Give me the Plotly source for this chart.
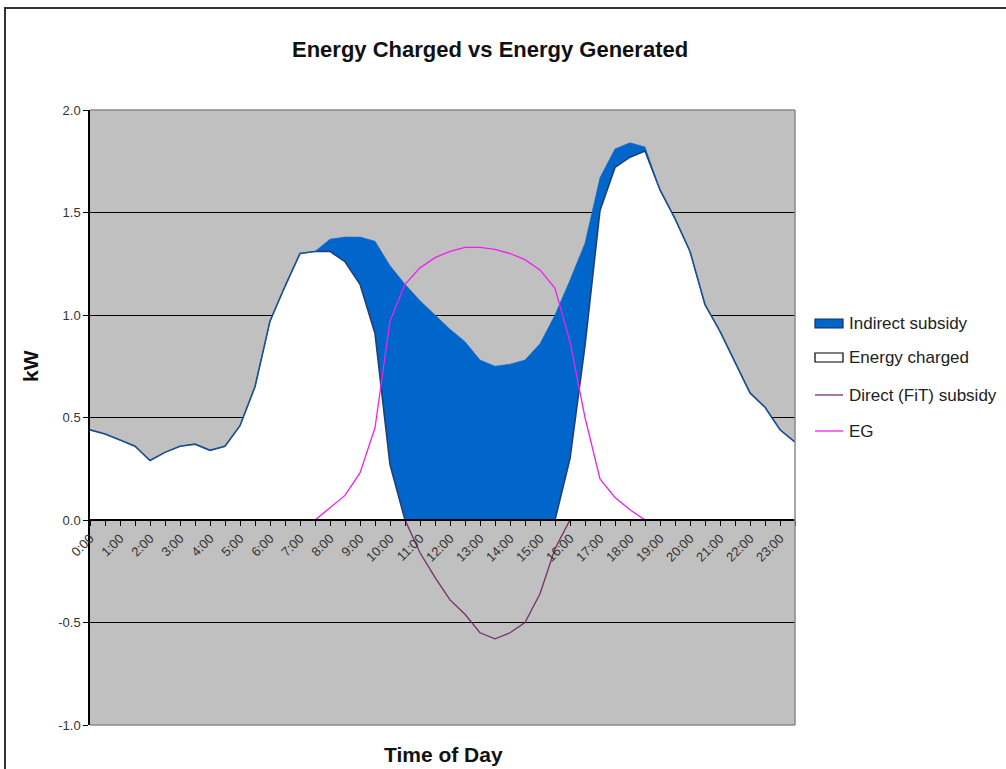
import plotly.graph_objects as go

times = ["0:00", "0:30", "1:00", "1:30", "2:00", "2:30", "3:00", "3:30",
         "4:00", "4:30", "5:00", "5:30", "6:00", "6:30", "7:00", "7:30",
         "8:00", "8:30", "9:00", "9:30", "10:00", "10:30", "11:00", "11:30",
         "12:00", "12:30", "13:00", "13:30", "14:00", "14:30", "15:00", "15:30",
         "16:00", "16:30", "17:00", "17:30", "18:00", "18:30", "19:00", "19:30",
         "20:00", "20:30", "21:00", "21:30", "22:00", "22:30", "23:00", "23:30"]

hour_labels = ["0:00", "", "1:00", "", "2:00", "", "3:00", "", "4:00", "", "5:00", "",
               "6:00", "", "7:00", "", "8:00", "", "9:00", "", "10:00", "", "11:00", "",
               "12:00", "", "13:00", "", "14:00", "", "15:00", "", "16:00", "", "17:00", "",
               "18:00", "", "19:00", "", "20:00", "", "21:00", "", "22:00", "", "23:00", ""]

energy_charged = [0.44, 0.42, 0.39, 0.36, 0.29, 0.33, 0.36, 0.37, 0.34, 0.36, 0.46, 0.65,
                  0.97, 1.14, 1.30, 1.31, 1.31, 1.26, 1.15, 0.91, 0.27, 0.0,
                  0.0, 0.0, 0.0, 0.0, 0.0, 0.0, 0.0, 0.0, 0.0, 0.0,
                  0.30, 0.85, 1.51, 1.72, 1.77, 1.80, 1.61, 1.47, 1.31, 1.05,
                  0.92, 0.77, 0.62, 0.55, 0.44, 0.38]

indirect_subsidy = [0, 0, 0, 0, 0, 0, 0, 0, 0, 0, 0, 0, 0, 0, 0, 0,
                    0.06, 0.12, 0.23, 0.45, 0.97, 1.15, 1.07, 1.00, 0.93, 0.87, 0.78,
                    0.75, 0.76, 0.78, 0.86, 1.00, 0.87, 0.50, 0.16, 0.09, 0.07, 0.02,
                    0, 0, 0, 0, 0, 0, 0, 0, 0, 0]

direct_subsidy = [0, 0, 0, 0, 0, 0, 0, 0, 0, 0, 0, 0, 0, 0, 0, 0, 0, 0, 0, 0, 0, 0,
                  -0.16, -0.28, -0.39, -0.46, -0.55, -0.58, -0.55, -0.50, -0.36, -0.14,
                  0, 0, 0, 0, 0, 0, 0, 0, 0, 0, 0, 0, 0, 0, 0, 0]

eg = [0, 0, 0, 0, 0, 0, 0, 0, 0, 0, 0, 0, 0, 0, 0, 0,
      0.06, 0.12, 0.23, 0.45, 0.97, 1.15, 1.23, 1.28, 1.31, 1.33, 1.33,
      1.32, 1.30, 1.27, 1.22, 1.13, 0.87, 0.50, 0.20, 0.11, 0.05, 0.0,
      0, 0, 0, 0, 0, 0, 0, 0, 0, 0]

y_ticks = [-1.0, -0.5, 0.0, 0.5, 1.0, 1.5, 2.0]
y_tick_labels = ["-1.0", "-0.5", "0.0", "0.5", "1.0", "1.5", "2.0"]

legend_names = ["Indirect subsidy", "Energy charged", "Direct (FiT) subsidy", "EG"]

BLUE = "#0066CC"
EDGE = "#23406e"
FIT = "#74306C"
EGC = "#F020F0"
FONT = "Liberation Sans, Arial, sans-serif"

# plot-area geometry in pixels (for placing paper-referenced decorations)
L, R, T, B = 90, 795, 110, 725


def px(xp):
    return (xp - L) / (R - L)


def py(yp):
    return (B - yp) / (B - T)


fig = go.Figure()

fig.add_trace(go.Scatter(x=times, y=energy_charged, stackgroup="one", mode="lines",
                         line=dict(color=EDGE, width=1.6), fillcolor="white",
                         name=legend_names[1], showlegend=False, hoverinfo="skip"))
fig.add_trace(go.Scatter(x=times, y=indirect_subsidy, stackgroup="one", mode="lines",
                         line=dict(color=BLUE, width=0.6), fillcolor=BLUE,
                         name=legend_names[0], showlegend=False, hoverinfo="skip"))
fig.add_trace(go.Scatter(x=times, y=direct_subsidy, mode="lines",
                         line=dict(color=FIT, width=1.3),
                         name=legend_names[2], showlegend=False))
fig.add_trace(go.Scatter(x=times, y=eg, mode="lines",
                         line=dict(color=EGC, width=1.3),
                         name=legend_names[3], showlegend=False))

shapes = [
    dict(type="line", xref="paper", yref="paper", x0=0, x1=1, y0=1, y1=1,
         line=dict(color="#8a8a8a", width=1.5), layer="above"),
    dict(type="line", xref="paper", yref="paper", x0=1, x1=1, y0=0, y1=1,
         line=dict(color="#8a8a8a", width=1.5), layer="above"),
    dict(type="line", xref="paper", yref="paper", x0=0, x1=1, y0=0, y1=0,
         line=dict(color="#8a8a8a", width=1.5), layer="above"),
    # chart-area frame
    dict(type="rect", xref="paper", yref="paper", x0=px(5), x1=px(1030),
         y0=py(790), y1=py(8), line=dict(color="#333333", width=2),
         fillcolor="rgba(0,0,0,0)", layer="above"),
    # legend swatches
    dict(type="rect", xref="paper", yref="paper", x0=px(815), x1=px(843),
         y0=py(328), y1=py(319), fillcolor=BLUE, line=dict(color="#1a2f55", width=1.2)),
    dict(type="rect", xref="paper", yref="paper", x0=px(815), x1=px(843),
         y0=py(362), y1=py(353), fillcolor="white", line=dict(color="black", width=1.2)),
    dict(type="line", xref="paper", yref="paper", x0=px(815), x1=px(843),
         y0=py(395), y1=py(395), line=dict(color=FIT, width=1.3)),
    dict(type="line", xref="paper", yref="paper", x0=px(815), x1=px(843),
         y0=py(431), y1=py(431), line=dict(color=EGC, width=1.3)),
]

annotations = [
    dict(text="<b>Energy Charged vs Energy Generated</b>", xref="paper", yref="paper",
         x=px(490), y=py(50), xanchor="center", yanchor="middle", showarrow=False,
         font=dict(size=22, color="#111111", family=FONT)),
    dict(text="<b>Time of Day</b>", xref="paper", yref="paper",
         x=px(444), y=py(754), xanchor="center", yanchor="middle", showarrow=False,
         font=dict(size=21, color="#111111", family=FONT)),
    dict(text="<b>kW</b>", xref="paper", yref="paper",
         x=px(30), y=py(366), xanchor="center", yanchor="middle", showarrow=False,
         textangle=-90, font=dict(size=21, color="#111111", family=FONT)),
]
for name, ypos in zip(legend_names, [323, 357, 395, 431]):
    annotations.append(dict(text=name, xref="paper", yref="paper", x=px(847), y=py(ypos),
                            xanchor="left", yanchor="middle", showarrow=False,
                            font=dict(size=17, color="#222222", family=FONT)))

fig.update_layout(
    width=1006, height=769,
    margin=dict(l=L, r=1006 - R, t=T, b=769 - B),
    paper_bgcolor="white",
    plot_bgcolor="#c0c0c0",
    font=dict(family=FONT, color="#222222"),
    showlegend=False,
    xaxis=dict(type="category", range=[0, 47], tickvals=times, ticktext=hour_labels,
               tickangle=-45, ticks="outside", ticklen=5, tickcolor="black",
               showline=True, linecolor="black", linewidth=1.5,
               showgrid=False, zeroline=False, anchor="free", position=1 / 3,
               tickfont=dict(size=13, color="#333333")),
    yaxis=dict(range=[-1, 2], tickvals=y_ticks, ticktext=y_tick_labels,
               ticks="outside", ticklen=5, tickcolor="black",
               showline=True, linecolor="black", linewidth=1.5,
               showgrid=True, gridcolor="black", gridwidth=1, zeroline=False,
               tickfont=dict(size=13, color="#333333")),
    annotations=annotations,
    shapes=shapes,
)

fig.write_html("out.html", config={"displayModeBar": False},
               post_script="document.body.style.margin='0';")
